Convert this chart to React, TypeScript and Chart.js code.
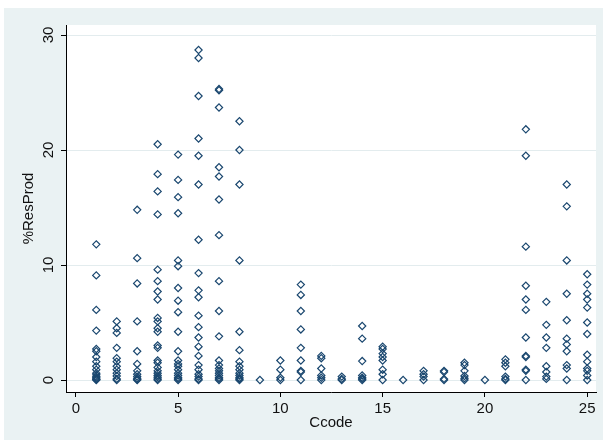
import { useEffect, useRef } from "react";
import { Chart, registerables } from "chart.js";

Chart.register(...registerables);

// %ResProd observations for each Ccode (1..25)
const ccode1 = [11.8, 9.1, 6.1, 4.3, 2.7, 2.5, 2.0, 1.6, 1.2, 0.9, 0.6, 0.45, 0.3, 0.2, 0.1, 0.05, 0];
const ccode2 = [5.1, 4.5, 4.1, 2.8, 1.9, 1.6, 1.2, 0.9, 0.6, 0.35, 0.1, 0];
const ccode3 = [14.8, 10.6, 8.4, 5.1, 2.5, 1.4, 0.8, 0.5, 0.3, 0.15, 0.05, 0];
const ccode4 = [20.5, 17.9, 16.4, 14.4, 9.6, 8.6, 7.7, 7.0, 5.4, 5.1, 4.5, 4.2, 3.0, 2.8, 1.7, 1.5, 1.1, 0.8, 0.6, 0.4, 0.25, 0.1, 0];
const ccode5 = [19.6, 17.4, 15.9, 14.5, 10.4, 9.9, 8.0, 6.9, 5.9, 4.2, 2.5, 1.7, 1.4, 1.2, 0.9, 0.6, 0.4, 0.2, 0.1, 0];
const ccode6 = [28.7, 28.0, 24.7, 21.0, 19.5, 17.0, 12.2, 9.3, 7.8, 7.2, 5.6, 4.6, 3.7, 2.9, 2.1, 1.3, 0.9, 0.5, 0.3, 0.1, 0];
const ccode7 = [25.3, 25.2, 23.7, 18.5, 17.7, 15.7, 12.6, 8.6, 6.0, 3.8, 1.7, 1.3, 1.0, 0.8, 0.6, 0.4, 0.2, 0.1, 0];
const ccode8 = [22.5, 20.0, 17.0, 10.4, 4.2, 2.6, 1.6, 1.2, 0.9, 0.6, 0.4, 0.2, 0.1, 0];
const ccode9 = [0];
const ccode10 = [1.7, 0.9, 0.2, 0];
const ccode11 = [8.3, 7.4, 6.0, 4.4, 2.8, 1.7, 0.8, 0.7, 0];
const ccode12 = [2.1, 1.9, 1.0, 0.4, 0.2, 0];
const ccode13 = [0.3, 0.1, 0];
const ccode14 = [4.7, 3.6, 1.65, 0.4, 0.2, 0.1, 0];
const ccode15 = [2.9, 2.7, 2.3, 2.0, 1.7, 0.9, 0.5, 0];
const ccode16 = [0];
const ccode17 = [0.8, 0.5, 0.3, 0];
const ccode18 = [0.8, 0.7, 0.1, 0];
const ccode19 = [1.5, 1.3, 0.8, 0.35, 0.15, 0];
const ccode20 = [0];
const ccode21 = [1.8, 1.5, 1.2, 0.3, 0.1, 0];
const ccode22 = [21.8, 19.5, 11.6, 8.2, 7.0, 6.1, 3.7, 2.1, 2.0, 0.9, 0.8, 0];
const ccode23 = [6.8, 4.8, 3.7, 2.8, 1.2, 0.7, 0.3, 0.1];
const ccode24 = [17.0, 15.1, 10.4, 7.5, 5.2, 3.6, 3.1, 2.5, 1.3, 1.0, 0];
const ccode25 = [9.2, 8.3, 7.5, 7.0, 6.3, 5.0, 4.0, 2.2, 1.6, 1.0, 0.8, 0.4, 0];

const valuesByCode = [
  ccode1, ccode2, ccode3, ccode4, ccode5, ccode6, ccode7, ccode8, ccode9, ccode10,
  ccode11, ccode12, ccode13, ccode14, ccode15, ccode16, ccode17, ccode18, ccode19, ccode20,
  ccode21, ccode22, ccode23, ccode24, ccode25,
];

const xTicks = [0, 5, 10, 15, 20, 25];
const yTicks = [0, 10, 20, 30];

const FONT = "'Liberation Sans', Arial, sans-serif";
const MARKER = "#1a476f";
const FRAME_BG = "#eaf2f3";

// light blue-grey graph region with a white plot region inside it
const backdrop = {
  id: "backdrop",
  beforeDraw(chart: any) {
    const { ctx, chartArea } = chart;
    ctx.save();
    ctx.fillStyle = FRAME_BG;
    ctx.fillRect(4, 8, 599, 432);
    ctx.fillStyle = "#ffffff";
    ctx.fillRect(chartArea.left, chartArea.top, chartArea.right - chartArea.left, chartArea.bottom - chartArea.top);
    ctx.restore();
  },
};

export default function App() {
  const canvasRef = useRef<HTMLCanvasElement | null>(null);

  useEffect(() => {
    const canvas = canvasRef.current;
    if (!canvas) return;
    const points = valuesByCode.flatMap((vals, i) => vals.map((v) => ({ x: i + 1, y: v })));

    const chart = new Chart(canvas, {
      type: "scatter",
      data: {
        datasets: [
          {
            data: points,
            pointStyle: "rectRot",
            pointRadius: 3.6,
            pointBorderWidth: 1.2,
            pointBorderColor: MARKER,
            pointBackgroundColor: "rgba(0,0,0,0)",
            clip: false,
          } as any,
        ],
      },
      options: {
        responsive: false,
        animation: false,
        layout: { padding: { left: 0, right: 11, top: 25, bottom: 0 } },
        plugins: { legend: { display: false }, tooltip: { enabled: false } },
        scales: {
          x: {
            type: "linear",
            min: -0.48,
            max: 25.43,
            afterBuildTicks: (axis: any) => {
              axis.ticks = xTicks.map((v) => ({ value: v }));
            },
            afterFit: (axis: any) => {
              axis.height = 54;
            },
            grid: { drawOnChartArea: false, tickLength: 5, tickColor: "#000", tickWidth: 1 },
            border: { display: true, color: "#000", width: 1 },
            ticks: {
              autoSkip: false,
              maxRotation: 0,
              padding: 3,
              color: "#111",
              font: { family: FONT, size: 15 },
            },
            title: {
              display: true,
              text: "Ccode",
              color: "#111",
              font: { family: FONT, size: 15 },
              padding: { top: 0, bottom: 14 },
            },
          },
          y: {
            type: "linear",
            min: -1.04,
            max: 30.87,
            afterBuildTicks: (axis: any) => {
              axis.ticks = yTicks.map((v) => ({ value: v }));
            },
            afterFit: (axis: any) => {
              axis.width = 66;
            },
            grid: { color: "#e3ecee", lineWidth: 1, tickLength: 5, tickColor: "#000", tickWidth: 1 },
            border: { display: true, color: "#000", width: 1 },
            ticks: {
              autoSkip: false,
              minRotation: 90,
              maxRotation: 90,
              crossAlign: "center",
              padding: 4,
              color: "#111",
              font: { family: FONT, size: 15 },
            },
            title: {
              display: true,
              text: "%ResProd",
              color: "#111",
              font: { family: FONT, size: 15 },
              padding: { top: 20, bottom: 0 },
            },
          },
        },
      } as any,
      plugins: [backdrop],
    });

    return () => chart.destroy();
  }, []);

  return (
    <div style={{ position: "fixed", left: 0, top: 0, width: 607, height: 446, background: "#fff" }}>
      <canvas ref={canvasRef} width={607} height={446} style={{ display: "block" }} />
    </div>
  );
}
